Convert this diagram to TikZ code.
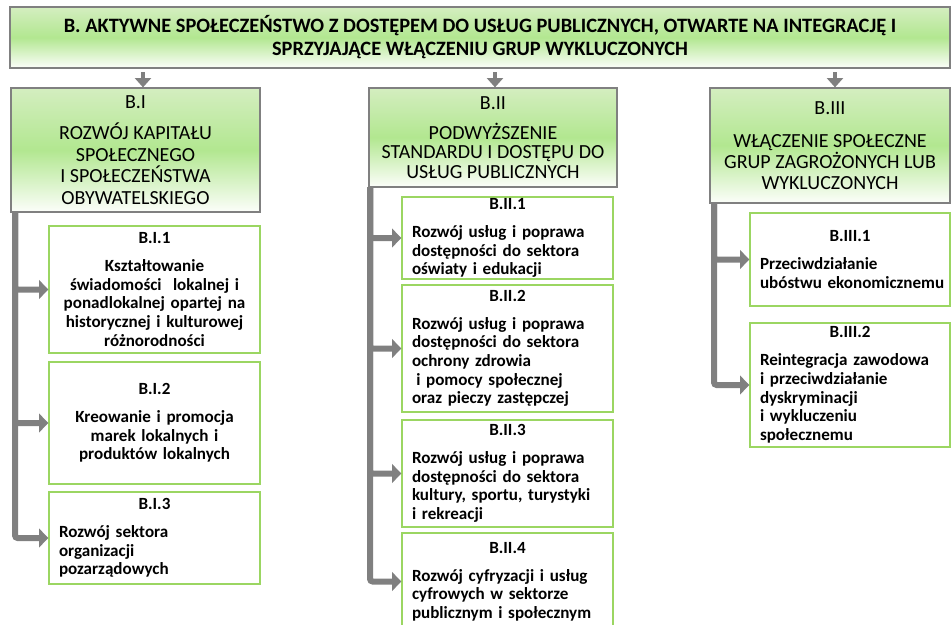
\documentclass[tikz,border=0pt]{standalone}
\usepackage{fontspec}
\setmainfont{Carlito}
\usetikzlibrary{arrows.meta}

\definecolor{hdrtop}{RGB}{212,238,192}
\definecolor{hdrmid}{RGB}{178,231,144}
\definecolor{hdrbot}{RGB}{252,254,250}
\definecolor{subframe}{RGB}{155,214,98}
\definecolor{bargray}{RGB}{128,128,128}

\tikzset{every picture/.style={line width=0.75pt}}
\tikzset{
  hdrbox/.style={draw=bargray, line width=0.9pt, top color=hdrtop, bottom color=hdrbot, middle color=hdrmid, inner sep=2pt, align=center, font=\fontsize{15}{16.3}\selectfont},
  subbox/.style={draw=subframe, line width=1pt, fill=white, inner xsep=7.5pt, inner ysep=-4pt, text width=143.25pt, minimum width=158.25pt, align=left, font=\bfseries\fontsize{12.8}{14}\selectfont},
  branch/.style={draw=bargray, line width=4.5pt, rounded corners=2pt, -{Triangle[length=7pt,width=14pt]}},
  feed/.style={draw=bargray, line width=3.5pt, -{Triangle[length=7pt,width=12pt]}}
}

\begin{document}
\begin{tikzpicture}[x=0.75pt,y=0.75pt,yscale=-1,xscale=1]
\useasboundingbox (0,0) rectangle (951,625);

% priority box
\node [hdrbox, minimum width=705pt, minimum height=45.75pt, inner ysep=-2pt, font=\bfseries\fontsize{15.3}{17.25}\selectfont] (prio) at (480,37.5) {B. AKTYWNE SPOŁECZEŃSTWO Z DOSTĘPEM DO USŁUG PUBLICZNYCH, OTWARTE NA INTEGRACJĘ I\\SPRZYJAJĄCE WŁĄCZENIU GRUP WYKLUCZONYCH};

% column headers
\node [hdrbox, minimum width=186.75pt, minimum height=93pt] (bI) at (135.5,150) {B.I\\[7pt]ROZWÓJ KAPITAŁU\\SPOŁECZNEGO\\I SPOŁECZEŃSTWA\\OBYWATELSKIEGO};
\node [hdrbox, minimum width=186pt, minimum height=74.25pt, font=\fontsize{15}{14.6}\selectfont] (bII) at (493,137.5) {B.II\\[8pt]PODWYŻSZENIE\\STANDARDU I DOSTĘPU DO\\USŁUG PUBLICZNYCH};
\node [hdrbox, minimum width=180pt, minimum height=86.25pt, font=\fontsize{15}{15.75}\selectfont] (bIII) at (830,145.5) {B.III\\[9pt]WŁĄCZENIE SPOŁECZNE\\GRUP ZAGROŻONYCH LUB\\WYKLUCZONYCH};

% B.I tasks
\node [subbox, align=center, minimum height=95.25pt] (bI1) at (154.5,289.5) {B.I.1\\[7pt]Kształtowanie\\świadomości~ lokalnej i\\ponadlokalnej opartej na\\historycznej i kulturowej\\różnorodności};
\node [subbox, align=center, minimum height=91.5pt] (bI2) at (154.5,423) {B.I.2\\[7pt]Kreowanie i promocja\\marek lokalnych i\\produktów lokalnych};
\node [subbox, minimum height=69pt] (bI3) at (154.5,538) {\makebox[\hsize]{B.I.3}\\[7pt]Rozwój sektora\\organizacji\\pozarządowych};

% B.II tasks
\node [subbox, minimum height=61.5pt] (bII1) at (507.5,238) {\makebox[\hsize]{B.II.1}\\[7pt]Rozwój usług i poprawa\\dostępności do sektora\\oświaty i edukacji};
\node [subbox, minimum height=95.25pt] (bII2) at (507.5,348.5) {\makebox[\hsize]{B.II.2}\\[7pt]Rozwój usług i poprawa\\dostępności do sektora\\ochrony zdrowia\\\hspace*{0.25em}i pomocy społecznej\\oraz pieczy zastępczej};
\node [subbox, minimum height=80.25pt] (bII3) at (507.5,473.5) {\makebox[\hsize]{B.II.3}\\[7pt]Rozwój usług i poprawa\\dostępności do sektora\\kultury, sportu, turystyki\\i rekreacji};
\node [subbox, minimum height=72.75pt] (bII4) at (507.5,581.5) {\makebox[\hsize]{B.II.4}\\[7pt]Rozwój cyfryzacji i usług\\cyfrowych w sektorze\\publicznym i społecznym};

% B.III tasks
\node [subbox, text width=135pt, minimum width=150pt, minimum height=69.75pt] (bIII1) at (850,259.5) {\makebox[\hsize]{B.III.1}\\[7pt]Przeciwdziałanie\\\mbox{ubóstwu ekonomicznemu}};
\node [subbox, text width=135pt, minimum width=150pt, minimum height=93pt] (bIII2) at (850,385) {\makebox[\hsize]{B.III.2}\\[7pt]Reintegracja zawodowa\\i przeciwdziałanie\\dyskryminacji\\i wykluczeniu\\społecznemu};

% arrows from the priority
\coordinate (fI) at (143,72);
\coordinate (fII) at (495,72);
\coordinate (fIII) at (835,72);
\draw [feed] (fI) -- (fI |- bI.north);
\draw [feed] (fII) -- (fII |- bII.north);
\draw [feed] (fIII) -- (fIII |- bIII.north);

% trunks
\coordinate (trunkI) at (15,212);
\coordinate (trunkII) at (370,187);
\coordinate (trunkIII) at (714,203);
\foreach \t in {bI1,bI2,bI3}
  \draw [branch] (trunkI) |- (\t.west);
\foreach \t in {bII1,bII2,bII3,bII4}
  \draw [branch] (trunkII) |- (\t.west);
\foreach \t in {bIII1,bIII2}
  \draw [branch] (trunkIII) |- (\t.west);

\end{tikzpicture}
\end{document}
